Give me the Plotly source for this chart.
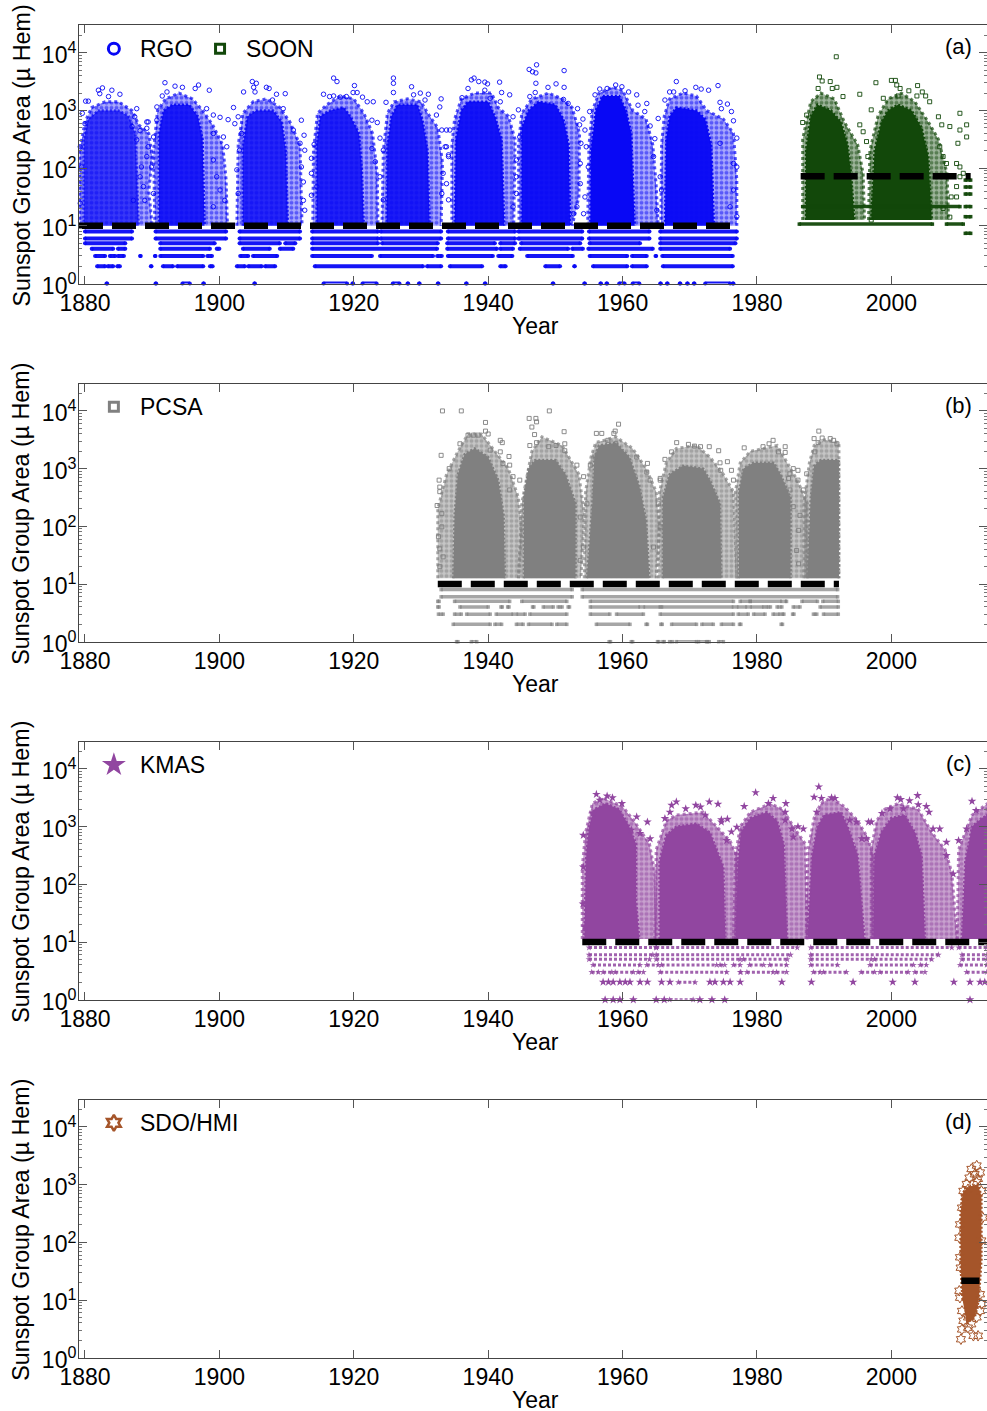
import plotly.graph_objects as go

WIDTH, HEIGHT = 987, 1411
FONT = "Liberation Sans"
BLUE = "rgb(8,8,245)"
GREEN = "rgb(18,72,10)"
GRAY = "rgb(128,128,128)"
PURPLE = "rgb(145,70,160)"
BROWN = "rgb(165,85,42)"

years_ticks = [1880, 1900, 1920, 1940, 1960, 1980, 2000]
decades = [1, 10, 100, 1000, 10000]
decade_labels = ["10<sup>0</sup>", "10<sup>1</sup>", "10<sup>2</sup>", "10<sup>3</sup>", "10<sup>4</sup>"]

# Dense parts of each cycle, read as (year, log10 area) outlines: outer = loose, core = nearly solid
rgo_outer = [
 [(1879.2,1),(1879.2,2.3),(1880,2.8),(1881,3.05),(1883,3.15),(1885,3.15),(1887,3.0),(1888,2.75),(1889.5,2.6),(1890,2.2),(1889.5,1.6),(1890,1)],
 [(1890.4,1),(1890.2,2.3),(1890.8,3.0),(1892,3.2),(1894,3.3),(1896,3.2),(1897.5,3.0),(1899,2.75),(1900.5,2.4),(1901,1.8),(1901.2,1)],
 [(1902.6,1),(1902.8,2.4),(1903.5,2.95),(1905,3.15),(1907,3.2),(1909,3.05),(1910.5,2.8),(1912,2.4),(1912.3,1)],
 [(1913.9,1),(1914,2.3),(1914.6,2.95),(1916,3.1),(1918,3.25),(1920,3.2),(1921.5,2.95),(1922.8,2.6),(1923.5,1.9),(1923.6,1)],
 [(1924.2,1),(1924.4,2.3),(1925,2.95),(1926,3.15),(1928,3.2),(1930,3.15),(1931,2.95),(1932.5,2.7),(1933.2,2.1),(1933,1)],
 [(1934.6,1),(1934.6,2.4),(1935,2.85),(1936,3.2),(1938,3.3),(1940.5,3.3),(1941.5,3.05),(1943,2.9),(1944,2.5),(1943.8,1)],
 [(1944.6,1),(1944.5,2.4),(1945,2.95),(1946.5,3.2),(1949,3.3),(1951,3.2),(1952.5,3.05),(1953.6,2.6),(1953.5,1.5),(1952.5,1)],
 [(1954.8,1),(1955,2.4),(1955.5,3),(1956.5,3.3),(1958.5,3.4),(1960,3.35),(1961.5,3.0),(1963.5,2.85),(1964.5,2.4),(1965,1.7),(1965.3,1)],
 [(1965.7,1),(1965.8,2.4),(1966.2,2.9),(1967,3.2),(1969,3.3),(1971,3.25),(1972.5,3.0),(1975,2.85),(1976.5,2.6),(1977,1.8),(1977,1)],
]
rgo_core = [
 [(1879.8,1),(1879.8,2.5),(1880.5,2.85),(1882,3.0),(1885,3.0),(1886.5,2.9),(1887.5,2.6),(1887.8,1.8),(1888,1)],
 [(1891,1),(1891,2.6),(1891.7,3.0),(1893,3.1),(1895.5,3.1),(1896.8,2.9),(1897.5,2.5),(1897.8,1)],
 [(1903.5,1),(1903.5,2.4),(1904.2,2.9),(1905.5,3.0),(1908,3.0),(1909.3,2.8),(1909.9,2.3),(1910.2,1)],
 [(1914.5,1),(1914.5,2.4),(1915,2.9),(1916.5,3.0),(1918.5,3.05),(1919.5,2.9),(1920.8,2.6),(1921.2,2),(1921.5,1)],
 [(1924.9,1),(1925,2.4),(1925.6,2.9),(1926.5,3.1),(1929.5,3.1),(1930.3,2.8),(1931,2.3),(1931.3,1)],
 [(1935,1),(1935.2,2.5),(1936,3.0),(1937,3.15),(1940,3.15),(1941,2.9),(1942,2.5),(1942.4,1)],
 [(1945,1),(1945,2.7),(1946,3.0),(1947.5,3.15),(1950,3.1),(1951.2,2.85),(1952,2.4),(1952.2,1)],
 [(1955.2,1),(1955.3,2.3),(1956,3),(1957,3.25),(1959.5,3.25),(1960.5,3),(1961.3,2.6),(1961.5,2),(1961.8,1)],
 [(1966.3,1),(1966.5,2.5),(1967,2.9),(1968,3.05),(1971,3.0),(1972.3,2.85),(1973.2,2.4),(1973.6,1)],
]
rgo_core_alpha = [0.7, 0.88, 0.82, 0.85, 0.88, 0.92, 0.95, 1.0, 0.97]

soon_outer = [
 [(1986.8,1.1),(1986.8,2.5),(1988,3.15),(1989.5,3.3),(1991.5,3.2),(1993,2.8),(1995,2.4),(1995.8,1.9),(1996,1.1)],
 [(1996.6,1.1),(1996.8,2.3),(1998,2.9),(1999.5,3.2),(2001.5,3.3),(2003.5,3.15),(2005.5,2.8),(2007,2.5),(2008.3,1.9),(2008.5,1.1)],
]
soon_core = [
 [(1987.3,1.1),(1987.3,2.3),(1988,2.9),(1989,3.1),(1991,3.0),(1992.5,2.8),(1993.5,2.4),(1994,1.9),(1994.5,1.1)],
 [(1997,1.1),(1997.5,2.3),(1998.5,2.8),(1999.5,3.0),(2001,3.1),(2003,3.0),(2004.5,2.7),(2005.5,2.2),(2006,1.1)],
]
pcsa_outer = [
 [(1932.5,1.1),(1932.5,2.3),(1933.8,2.9),(1935.5,3.3),(1937,3.6),(1939,3.6),(1941,3.3),(1943,3.0),(1944.5,2.5),(1945,1.9),(1944.5,1.1)],
 [(1944.5,1.1),(1945,2.4),(1946,3.0),(1946.5,3.3),(1948,3.55),(1951,3.4),(1952.5,3.1),(1953.5,2.9),(1954.3,2.2),(1953.8,1.1)],
 [(1954.3,1.1),(1954.5,2.6),(1955.3,3.2),(1956,3.45),(1959,3.55),(1961.5,3.35),(1963.5,3),(1965,2.6),(1965.5,2),(1965,1.1)],
 [(1965.3,1.1),(1965.5,2.6),(1966.5,3.1),(1968,3.35),(1971,3.4),(1973,3.2),(1975,2.9),(1976.5,2.6),(1977,1.1)],
 [(1977,1.1),(1976.8,2.6),(1977.5,3.1),(1979,3.3),(1983,3.4),(1984.5,3.1),(1986,2.8),(1987.5,2.4),(1987.5,1.1)],
 [(1987,1.1),(1987,2.4),(1987.8,3.1),(1988.5,3.4),(1990,3.5),(1992.2,3.45),(1992.2,1.1)],
]
pcsa_core = [
 [(1934.8,1.1),(1935,2.2),(1935.5,2.9),(1936.5,3.25),(1938,3.35),(1940,3.2),(1941.5,2.8),(1942.3,2.2),(1942.5,1.1)],
 [(1945.3,1.1),(1945.3,2.5),(1946,3.0),(1947,3.15),(1950,3.15),(1951.5,2.9),(1953,2.4),(1953,1.1)],
 [(1954.7,1.1),(1955.5,2.4),(1955.8,3.2),(1956.5,3.4),(1959,3.45),(1961,3.2),(1962.5,2.7),(1963.5,2.1),(1964,1.1)],
 [(1966,1.1),(1966,2.5),(1967,2.9),(1969,3.05),(1972,3.0),(1973,2.8),(1974.5,2.4),(1974.7,1.1)],
 [(1977.3,1.1),(1977.3,2.6),(1978,3.0),(1979.5,3.1),(1982.5,3.1),(1983.5,2.9),(1985,2.5),(1985,1.1)],
 [(1987.5,1.1),(1988,2.5),(1988.5,3.05),(1989.5,3.15),(1992.2,3.15),(1992.2,1.1)],
]
kmas_outer = [
 [(1954,1.05),(1954,2.3),(1954.5,2.9),(1955.5,3.4),(1957,3.5),(1960,3.35),(1962,3.05),(1964,2.7),(1964.8,2.2),(1965,1.05)],
 [(1964.8,1.05),(1965,2.6),(1966.5,3.1),(1968,3.2),(1972,3.25),(1974,3.0),(1976,2.75),(1977,2.5),(1977.3,1.05)],
 [(1976.5,1.05),(1976.8,2.5),(1977.5,3.0),(1979,3.25),(1982,3.4),(1983.8,3.3),(1986,2.9),(1987.2,2.7),(1987.5,1.05)],
 [(1987.3,1.05),(1987.6,2.6),(1988.5,3.15),(1989.5,3.4),(1991,3.5),(1993,3.35),(1995,3.1),(1996.5,2.8),(1997.5,2.4),(1997.7,1.05)],
 [(1997,1.05),(1997,2.6),(1997.8,3.1),(1999,3.3),(2001,3.4),(2004,3.3),(2006,2.9),(2008,2.6),(2009,2.2),(2009.8,1.05)],
 [(2009.8,1.05),(2010,2.6),(2011,2.9),(2012,3.2),(2014.3,3.4),(2014.3,1.05)],
]
kmas_core = [
 [(1954.3,1.05),(1954.6,2.5),(1955,3.0),(1955.8,3.3),(1957.5,3.4),(1959.5,3.3),(1961,3.0),(1962,2.7),(1962,1.7),(1962.5,1.05)],
 [(1965.5,1.05),(1965.5,2.4),(1966.5,2.85),(1968,3.0),(1971,3.05),(1973,2.9),(1975,2.3),(1975.3,1.05)],
 [(1976.8,1.05),(1977.2,2.4),(1977.6,2.9),(1979,3.15),(1981.5,3.25),(1983,3.1),(1984,2.7),(1984.5,1.05)],
 [(1987.5,1.05),(1988.2,2.5),(1989,3),(1990,3.2),(1992.5,3.25),(1993.5,3),(1995,2.5),(1996,1.05)],
 [(1997.3,1.05),(1997.5,2.5),(1998.5,2.9),(2000,3.15),(2002,3.2),(2003.5,2.9),(2004.5,2.5),(2005,1.05)],
 [(2010.5,1.05),(2011,2.4),(2012,3.0),(2013.5,3.15),(2014.3,3.2),(2014.3,1.05)],
]
hmi_core = [
 [(2010.6,1.0),(2010.3,1.6),(2010.3,2.5),(2010.6,2.85),(2011.3,2.95),(2012.9,3.0),(2013.4,2.8),(2013.4,1.7),(2013,1),(2012.4,.7),(2011.2,.6)],
]

# Individually readable points outside the dense parts: (year, log10 area)
rgo_points = [
 (1882.6,3.39),(1882,3.35),(1882.2,3.29),(1884,3.35),(1885.2,3.28),(1883.5,3.24),(1880.5,3.16),(1880.1,3.16),(1879.6,2.95),(1887.7,3.03),(1887.4,2.89),(1889.2,2.8),(1889.2,2.69),(1888.2,2.65),(1887,2.72),(1887.7,2.49),(1889.4,2.37),(1889.2,2.2),(1888.4,2.02),(1888.2,1.85),(1888.7,1.68),(1888.9,1.44),(1887.2,1.44),(1879.3,2.37),(1879.5,2.02),(1879.3,1.39),(1880,2.77),
 (1891.9,3.48),(1893.4,3.42),(1894.5,3.4),(1896.9,3.44),(1896.4,3.38),(1898.5,3.35),(1892.2,3.32),(1891.5,3.25),(1890.7,3.06),(1898.1,3.03),(1899.1,2.92),(1900.1,2.88),(1901.3,2.84),(1902.1,3.05),(1889.4,2.8),(1890.7,2.83),(1890.2,2.54),(1889.9,2.02),(1890.2,1.56),(1899.1,2.6),(1900.6,2.54),(1901.1,2.37),(1899.1,2.14),(1899.6,1.85),(1900.8,1.44),(1899.1,1.33),(1900.1,1.62),
 (1904.9,3.5),(1905.5,3.47),(1905.1,3.4),(1903.6,3.32),(1907,3.4),(1907.4,3.38),(1905.3,3.32),(1909.8,3.29),(1908.5,3.28),(1907.9,3.18),(1902.3,2.77),(1902.8,2.89),(1912.2,2.83),(1912.6,2.57),(1912,2.43),(1912.7,2.31),(1912.2,2.02),(1912.5,1.76),(1912.5,1.44),(1912.7,1.27),(1903.3,2.6),(1903,2.31),(1902.6,1.97),(1902.8,1.56),(1909.5,3.03),(1911,2.66),
 (1917,3.56),(1917.5,3.5),(1920.1,3.43),(1915.5,3.28),(1916.4,3.24),(1917,3.25),(1918,3.23),(1918.9,3.24),(1919.9,3.31),(1920.5,3.31),(1921.3,3.23),(1922,3.15),(1922.9,3.15),(1922.7,2.83),(1923.5,2.79),(1914.1,2.41),(1913.7,2.17),(1913.7,1.91),(1914.5,1.68),(1913.7,1.53),(1923.2,2.11),(1922.7,2.34),(1923.9,2.52),
 (1925.9,3.56),(1925.9,3.47),(1925.9,3.31),(1928.6,3.41),(1929.9,3.3),(1928.9,3.27),(1931.1,3.28),(1924.8,3.14),(1930.6,3.18),(1933,3.2),(1932.8,3.06),(1932.3,2.92),(1933.1,2.66),(1933.8,2.66),(1933.6,2.37),(1934.1,2.23),(1933.3,1.91),(1933.1,1.56),(1924.4,2.31),(1923.9,1.85),(1924.4,1.45),
 (1937.9,3.56),(1937.5,3.53),(1938.6,3.5),(1939.5,3.49),(1939.9,3.46),(1941.7,3.49),(1937,3.38),(1936.1,3.22),(1939.5,3.35),(1942,3.31),(1943.2,3.27),(1940.3,3.21),(1941.8,3.15),(1944.5,3.01),(1934.3,2.66),(1933.8,2.37),(1934.1,2.2),(1933.8,1.73),(1934.1,1.45),(1943.7,2.89),(1944.7,2.54),(1944.2,2.14),(1944.2,1.85),(1944.2,1.56),(1943.7,1.33),
 (1947.2,3.79),(1946.1,3.71),(1946.6,3.67),(1947.1,3.65),(1951.3,3.69),(1947.1,3.47),(1950.1,3.46),(1948.9,3.4),(1951.3,3.4),(1947,3.31),(1946.2,3.24),(1951.2,3.19),(1951.9,3.12),(1953.3,3.03),(1954.1,2.85),(1953.6,2.75),(1953.8,2.43),(1953.7,2.08),(1953.7,1.73),(1953.2,1.33),(1952.7,1.21),
 (1958.97,3.44),(1957.7,3.38),(1956.6,3.37),(1959.9,3.41),(1960.9,3.32),(1962.1,3.27),(1955.9,3.27),(1963.6,3.12),(1962.3,3.09),(1963.3,2.98),(1955.1,2.98),(1954.4,2.66),(1954.6,2.37),(1954.9,2.02),(1964.1,2.73),(1964.8,2.51),(1965.3,2.86),(1964.6,2.2),(1965.6,1.85),(1965.8,1.62),(1954.4,1.5),(1954.2,1.21),(1965.1,1.27),
 (1968,3.5),(1970.9,3.4),(1971.7,3.37),(1974.2,3.43),(1972.8,3.35),(1967,3.32),(1967.6,3.32),(1969.3,3.34),(1966.3,3.18),(1974.5,3.14),(1975.6,3.11),(1976.2,2.98),(1974.7,3.03),(1977,2.52),(1976.5,2.08),(1977,2.02),(1976.5,1.62),(1977,1.16),(1976,1.33),(1976.5,2.82),(1974.5,2.43),
]
soon_points = [
 (1991.8,3.93),(1989.3,3.58),(1989.7,3.51),(1990.9,3.5),(1989.1,3.38),(1991.9,3.4),(1991.2,3.38),(1992.8,3.24),(1995.3,3.28),(1997.7,3.48),(2000,3.52),(2000.6,3.52),(2000.8,3.44),(2001.3,3.38),(2002.6,3.34),(2003.9,3.43),(2004.6,3.32),(2003.8,3.25),(2005.1,3.25),(2005.7,3.15),(1998.8,3.21),(2001,3.25),(1997,3.01),(1987.4,2.92),(1986.8,2.79),(1995.3,2.75),(1995.8,2.63),(2007.5,2.75),(2010.2,2.95),(2010.2,2.66),(2011.2,2.75),(2008.7,2.72),(2011.2,2.54),(2009.9,2.43),(2007,2.89),(2008.2,2.08),(2007.2,2.37),(2007.7,2.2),(2009.7,2.08),(2010.2,2.02),(2010.7,1.91),(1996.3,2.46),(1996.5,2.2),(2008.9,1.5),(2009.7,1.68),(2010.2,1.85),(2007.7,1.3),(2008.7,1.15),(2009.7,1.5),(1997,1.1),
]
pcsa_points = [
 (1933.2,4.0),(1936,4.0),(1939.6,3.8),(1939.6,3.65),(1940,3.6),(1937,3.58),(1937.8,3.58),(1938.5,3.58),(1935.8,3.43),(1933,3.23),(1941.8,3.49),(1942.1,3.45),(1940.3,3.32),(1941.8,3.29),(1943.1,3.21),(1943.2,3.06),(1942.2,3.09),(1934.2,3.0),(1932.7,2.8),(1932.8,2.68),(1932.8,2.6),(1932.4,2.36),(1933.1,2.22),(1933.1,1.99),(1932.6,1.82),(1932.8,1.61),(1933.3,1.47),(1932.8,1.3),(1943.7,2.86),(1943.2,2.63),
 (1946.1,3.87),(1947.1,3.87),(1947.2,3.81),(1949.1,4),(1946.5,3.72),(1951.3,3.64),(1946.9,3.59),(1950.1,3.4),(1946.2,3.4),(1947.2,3.45),(1949,3.38),(1951.4,3.43),(1951.4,3.31),(1953.2,3.06),(1954.2,2.86),(1944.7,2.8),(1954.7,2.39),(1953.7,2.16),(1954.2,1.64),(1953.7,1.41),
 (1959.4,3.77),(1958.9,3.65),(1958.7,3.61),(1956.1,3.61),(1956.9,3.61),(1957.8,3.49),(1959,3.43),(1955.9,3.2),(1955.2,3.06),(1963.7,3.09),(1962.1,3.2),(1963.6,2.94),(1964.1,2.8),(1965.6,2.83),(1965.3,2.39),(1965.6,1.99),(1964.6,1.64),
 (1968.05,3.45),(1969.8,3.42),(1970.7,3.39),(1971.6,3.38),(1972.9,3.38),(1974.3,3.31),(1967.3,3.29),(1966.3,3.16),(1975.6,3.12),(1974.5,3.1),(1976.2,2.97),(1974.6,2.97),(1976.5,2.8),(1965.6,2.8),
 (1978.1,3.36),(1980.9,3.38),(1981.8,3.43),(1982.4,3.49),(1984.2,3.38),(1983.2,3.29),(1984.2,3.28),(1985.4,3),(1986.1,2.97),(1984.9,2.91),(1984.7,2.83),(1986.1,2.8),(1984.9,2.63),(1985.4,2.34),(1986.4,2.19),(1986.2,1.93),(1985.9,1.58),(1986.2,1.35),
 (1989.2,3.65),(1989.7,3.53),(1988.5,3.52),(1989.1,3.45),(1990.9,3.52),(1991.4,3.49),(1991.9,3.43),(1988.6,3.29),(1987.4,2.91),(1986.9,2.63),
]
kmas_points = [
 (1956.1,3.56),(1957.7,3.53),(1958.5,3.5),(1956.6,3.46),(1955.6,3.23),(1959.9,3.4),(1962.1,3.17),(1963.7,3.08),(1961.3,2.94),(1962.6,2.88),(1964.1,2.79),(1954.15,2.85),(1954.15,2.3),(1954.1,1.66),(1954.4,1.26),
 (1967.3,3.37),(1968,3.43),(1966.3,3.14),(1967.05,3.25),(1969.4,3.31),(1970.9,3.37),(1971.6,3.34),(1972.9,3.43),(1974.2,3.39),(1972.3,3.2),(1974.7,3.12),(1975.6,3.13),(1974.7,3.08),(1977,2.99),(1976.2,2.91),(1975.5,2.76),
 (1979.8,3.59),(1978.1,3.35),(1982.4,3.49),(1984.3,3.4),(1981.7,3.4),(1984.2,3.25),(1984.2,3.11),(1985.2,2.96),(1986.1,3),(1986.9,2.96),(1985.4,2.82),
 (1989.2,3.69),(1988.5,3.51),(1989.6,3.49),(1991.1,3.5),(1991.6,3.49),(1988.9,3.25),(1993.8,3.11),(1994.8,3.08),(1995.6,2.79),(1996.3,2.79),(1996.6,3.08),
 (2000.9,3.5),(2001.4,3.47),(2003.9,3.54),(2002.7,3.45),(2004,3.38),(2001.8,3.31),(1999.8,3.31),(1998.6,3.23),(2005.2,3.35),(2005.6,3.25),(1997,3.08),(2006.2,2.96),(2007.2,2.96),(2008.2,2.73),(2008.2,2.5),(2009.2,2.18),(2012,3.44),(2012.6,3.28),(2011.2,2.96),(2010,2.76),
 (1957.1,.306),(1957.9,.306),(1958.6,.306),(1959.6,.306),(1960.4,.306),(1961.1,.306),(1962.6,.306),(1963.7,.306),(1965.8,.306),(1967.05,.306),(1973,.306),(1973.75,.306),(1975,.306),(1976,.306),(1977.5,.306),(1983.7,.306),(1988.1,.306),(1994.3,.306),(2000.2,.306),(2003.5,.306),(2009.3,.306),(2011.7,.306),(2013.2,.306),(2013.9,.306),
 (1957.4,0),(1958.6,0),(1959.6,0),(1961.6,0),(1965,0),(1966.2,0),(1971.5,0),(1973.3,0),(1975.2,0),(2011.7,0),
]
hmi_points = [
 (2012.7,3.33),(2011.9,3.27),(2013.2,3.21),(2011.6,3.12),(2012.4,3.18),(2012.9,3.1),(2011.2,3.01),(2010.7,2.89),(2011.4,2.92),(2012.7,3.04),(2011,2.78),(2010.5,2.6),(2010.2,2.31),(2010.1,2.08),(2010.2,1.74),(2010.3,1.56),(2013.4,2.89),(2013.6,2.43),(2013.4,2.03),(2010.2,1.04),(2010.5,.81),(2013.2,.81),(2012.7,.7),(2010.7,.64),(2010.5,.49),(2010.35,.32),(2011.4,.52),(2012.9,.38),(2012.2,.38),(2013.4,.93),(2011.4,.7),(2011.9,.58),(2010.1,1.16),(2013.2,1.1),
]

# Discrete low-area rows: area value -> runs of years where the symbols merge
rgo_rows = {
 1: [(1883.2,1883.3),(1890.5,1890.6),(1894.5,1895.6),(1897.6,1897.7),(1905.2,1905.3),(1915.5,1919),(1919.8,1919.9),(1921.3,1923.4),(1925.8,1926.8),(1928,1928.1),(1929.7,1929.8),(1932.5,1932.6),(1936.7,1936.8),(1939.5,1939.6),(1949.6,1949.7),(1954.3,1954.4),(1956.7,1956.8),(1957.6,1957.7),(1959.5,1960.3),(1961.5,1962.5),(1965.6,1965.7),(1966.6,1966.7),(1968.5,1968.6),(1969.6,1969.7),(1970.6,1970.7),(1972.3,1976),(1976.4,1976.5)],
 2: [(1881.8,1883),(1883.4,1884.2),(1884.8,1885.2),(1889.8,1889.9),(1891.6,1893.1),(1893.7,1897.6),(1898.6,1899),(1902.6,1903.8),(1904.3,1906.3),(1906.8,1908.3),(1914.2,1930.3),(1930.9,1933),(1934.3,1939.1),(1941.8,1942.6),(1948.5,1950.7),(1952.8,1952.9),(1955.6,1960.7),(1961.4,1963.6),(1966,1976.4)],
 3: [(1881.5,1883),(1883.7,1884.5),(1884.9,1885.8),(1888.2,1888.3),(1890.4,1890.5),(1891.2,1897.6),(1898.2,1898.9),(1903.1,1904.3),(1905,1908.6),(1913.8,1922.7),(1923.9,1931.8),(1932.4,1933.1),(1934,1940.7),(1941.5,1943.6),(1945.8,1952.6),(1955.1,1960.7),(1961.4,1963.6),(1964.9,1965),(1965.9,1976.4)],
 4: [(1881,1884.2),(1884.9,1886),(1891.2,1898.6),(1899.6,1900),(1903.5,1907.5),(1909,1911),(1913.8,1932.4),(1933.9,1941.3),(1941.8,1943.7),(1944.7,1951.9),(1952.5,1954.1),(1954.9,1964.5),(1965.6,1976)],
 5: [(1880,1886),(1891.2,1899.3),(1903,1909),(1909.8,1911.3),(1913.8,1923.6),(1924.2,1932.5),(1933.9,1941),(1941.8,1944),(1944.9,1953.7),(1955.1,1962.6),(1965.6,1976.8)],
 6: [(1880,1887),(1890.5,1901),(1903,1912),(1913.8,1923.6),(1924,1933),(1934,1944),(1944.5,1954),(1955,1964),(1965.6,1977)],
 8: [(1880,1887),(1890.5,1901),(1903,1912),(1913.8,1923.6),(1924,1933),(1934,1944),(1944.5,1954),(1955,1964),(1965.6,1977)],
}
soon_rows = {
 7.4: [(2011,2011.8)],
 10.7: [(1986.3,2006.1),(2008.2,2010.7)],
 14.4: [(2011,2011.8)],
 21.5: [(1986.8,2010.2),(2011,2011.8)],
 35.5: [(2011,2011.8)],
 47: [(2011,2011.8)],
 62: [(2011,2011.8)],
}
pcsa_rows = {
 1: [(1935.3,1935.5),(1937.5,1938.3),(1958,1958.2),(1961.3,1961.5),(1965.2,1965.4),(1966,1966.2),(1967,1967.4),(1968,1971),(1971.3,1972.5),(1972.6,1972.9),(1974.3,1975)],
 2: [(1934.8,1940.3),(1941,1942),(1944.2,1945.2),(1946,1949.5),(1950.2,1951.7),(1956.1,1961.1),(1963.5,1963.7),(1965.7,1965.9),(1967.3,1971),(1971.8,1973.5),(1974.7,1976.5),(1977.4,1977.6),(1983.6,1983.8)],
 3: [(1932.6,1933.3),(1935,1936),(1936.8,1940.3),(1941.2,1943.7),(1944.2,1945.5),(1946.2,1951.7),(1955.2,1958.1),(1959.1,1963.1),(1965.6,1976.5),(1977.2,1978.7),(1979.5,1981.2),(1982.4,1983.4),(1983.8,1984),(1985.3,1985.5),(1988.4,1988.9),(1989.9,1992.1)],
 4: [(1932.5,1932.7),(1935.8,1940),(1941.9,1942.1),(1942.9,1943.1),(1946.6,1946.8),(1948.2,1949.7),(1950.4,1951),(1951.9,1952.1),(1955.2,1962.6),(1963.1,1965.6),(1965.8,1976.5),(1977,1978.5),(1979,1981),(1981.4,1982),(1983,1983.7),(1985.4,1986.4),(1989.4,1992.1)],
 5: [(1932.5,1932.7),(1935,1943.2),(1945,1951.7),(1955.2,1976.5),(1977.5,1979),(1979,1983.7),(1984.2,1984.4),(1986.7,1989),(1989.8,1992.1)],
 6: [(1933,1952.5),(1954,1992)],
 8: [(1933,1952.5),(1954,1992)],
}
kmas_rows = {
 1: [(1967,1970.5)],
 2: [(1968.3,1970.8)],
 3: [(1955.4,1956.4),(1957.1,1958.4),(1958.9,1961.6),(1962.3,1963.1),(1965.6,1975.5),(1977.5,1977.6),(1978.5,1982.4),(1982.9,1984.4),(1988.4,1989.4),(1989.9,1993.3),(1995.5,1997.5),(1998.3,2002.5),(2003.5,2005),(2011.2,2014.2)],
 4: [(1955.6,1962.6),(1963.6,1965.3),(1965.8,1974),(1974.5,1975.2),(1976.5,1977.5),(1978.9,1981),(1981.9,1984.4),(1988,1992),(1996.8,2003.3),(2004.3,2005.2),(2010.2,2014.2)],
 5: [(1955,1964),(1965,1977.5),(1978,1984.5),(1988,1997),(1997.5,2006),(2010.5,2014.2)],
 6: [(1955,1964.5),(1965,1985),(1988,2007),(2010.5,2014.2)],
 8: [(1955,1965),(1965,1986),(1988,2009),(2010,2014.2)],
}

# Dashed reference levels: (start year, end year, area)
rgo_level = [(1879.11, 1976.8, 10)]
soon_level = [(1986.5, 2011.8, 72)]
pcsa_level = [(1932.5, 1992.2, 10)]
kmas_level = [(1954, 2014.23, 10)]
hmi_level = [(2010.4, 2013.1, 21.6)]

panel_letters = ["(a)", "(b)", "(c)", "(d)"]
X_RANGE = [1879.11, 2014.23]
Y_RANGE = [0, 4.475]
panel_tops = [25.3, 383.5, 741.5, 1099.5]
PANEL_H = 258.2


def rgba(rgb, a):
    return rgb.replace("rgb(", "rgba(").replace(")", f",{a})")


fig = go.Figure()
AREA_MINOR = [m * 10 ** d for d in range(5) for m in range(2, 10)]


def add_shapes(n, polys, color, alphas):
    for poly, a in zip(polys, alphas):
        fig.add_trace(go.Scatter(x=[p[0] for p in poly], y=[10 ** p[1] for p in poly], mode="lines",
                                 fill="toself", fillcolor=rgba(color, a),
                                 line=dict(color=rgba(color, a), width=2.5, dash="2px,2px"),
                                 hoverinfo="skip", showlegend=False, xaxis=f"x{n}", yaxis=f"y{n}"))


def add_loose(n, polys, color, bg_alpha, solidity, size=5):
    for poly in polys:
        fig.add_trace(go.Scatter(x=[p[0] for p in poly], y=[10 ** p[1] for p in poly], mode="lines",
                                 fill="toself", fillcolor=rgba(color, bg_alpha),
                                 fillpattern=dict(shape=".", size=size, solidity=solidity, fgcolor=color, bgcolor=rgba(color, bg_alpha)),
                                 line=dict(color=rgba(color, 0.7), width=3, dash="3px,3px"),
                                 hoverinfo="skip", showlegend=False, xaxis=f"x{n}", yaxis=f"y{n}"))


def add_rows(n, rows, color, alpha, symbol, width=4, dash="solid", size=4):
    xs, ys = [], []
    for val, runs in rows.items():
        for a, b in runs:
            xs += [a, b, None]
            ys += [val, val, None]
    fig.add_trace(go.Scatter(x=xs, y=ys, mode="lines+markers", line=dict(color=rgba(color, alpha), width=width, dash=dash),
                             marker=dict(symbol=symbol, size=size, color=rgba(color, alpha), line=dict(width=0)),
                             showlegend=False, xaxis=f"x{n}", yaxis=f"y{n}", cliponaxis=False))


def add_points(n, pts, color, symbol, size, lw=1.0, alpha=0.9):
    fig.add_trace(go.Scatter(x=[p[0] for p in pts], y=[10 ** p[1] for p in pts], mode="markers",
                             marker=dict(symbol=symbol, size=size, color=rgba(color, alpha), line=dict(color=rgba(color, alpha), width=lw)),
                             showlegend=False, xaxis=f"x{n}", yaxis=f"y{n}", cliponaxis=False))


def add_level(n, level):
    for a, b, v in level:
        fig.add_trace(go.Scatter(x=[a, b], y=[v, v], mode="lines", line=dict(color="black", width=6.5, dash="24px,9px"),
                                 showlegend=False, xaxis=f"x{n}", yaxis=f"y{n}"))


def add_key(n, year, symbol, size, color, lw):
    fig.add_trace(go.Scatter(x=[year], y=[10 ** 4.07], mode="markers",
                             marker=dict(symbol=symbol, size=size, color=color, line=dict(color=color, width=lw)),
                             showlegend=False, xaxis=f"x{n}", yaxis=f"y{n}"))


# (a)
add_loose(1, rgo_outer, BLUE, 0.35, 0.5)
add_shapes(1, rgo_core, BLUE, rgo_core_alpha)
add_rows(1, rgo_rows, BLUE, 0.95, "circle")
add_points(1, rgo_points, BLUE, "circle-open", 4.5)
add_loose(1, soon_outer, GREEN, 0.4, 0.5)
add_shapes(1, soon_core, GREEN, [1.0] * 2)
add_rows(1, soon_rows, GREEN, 0.95, "square", 3.5, "solid", 3.5)
add_points(1, soon_points, GREEN, "square-open", 4)
add_level(1, rgo_level)
add_level(1, soon_level)
add_key(1, 1884.3, "circle-open", 11, BLUE, 3)
add_key(1, 1900.1, "square-open", 9, GREEN, 3)
# (b)
add_loose(2, pcsa_outer, GRAY, 0.45, 0.5)
add_shapes(2, pcsa_core, GRAY, [1.0] * 6)
add_rows(2, pcsa_rows, GRAY, 0.7, "square", 3.5, "solid", 3.5)
add_points(2, pcsa_points, GRAY, "square-open", 4)
add_level(2, pcsa_level)
add_key(2, 1884.3, "square-open", 9, GRAY, 3)
# (c)
add_loose(3, kmas_outer, PURPLE, 0.5, 0.55)
add_shapes(3, kmas_core, PURPLE, [1.0] * 6)
add_rows(3, kmas_rows, PURPLE, 0.85, "star", 3, "3px,2px", 5)
add_points(3, kmas_points, PURPLE, "star", 6.5, 0, 1.0)
add_level(3, kmas_level)
add_key(3, 1884.3, "star", 18, PURPLE, 0)
# (d)
add_shapes(4, hmi_core, BROWN, [1.0])
add_points(4, hmi_points, BROWN, "hexagram-open", 8, 1.0, 1.0)
add_level(4, hmi_level)
add_key(4, 1884.3, "hexagram-open", 12, BROWN, 2.5)

annotations = []
labels = [[("RGO", 1887.9), ("SOON", 1903.7)], [("PCSA", 1887.9)], [("KMAS", 1887.9)], [("SDO/HMI", 1887.9)]]
layout = {}
for i, top in enumerate(panel_tops):
    n = i + 1
    suffix = "" if n == 1 else str(n)
    bottom = top + PANEL_H
    ydom = [1 - bottom / HEIGHT, 1 - top / HEIGHT]
    layout[f"xaxis{suffix}"] = dict(domain=[79 / WIDTH, 1], range=X_RANGE, anchor=f"y{suffix}", tickmode="array",
                                    tickvals=years_ticks, ticks="inside", ticklen=8, tickwidth=1, tickcolor="#555",
                                    showline=True, linecolor="#444", linewidth=1, mirror="ticks", showgrid=False, zeroline=False,
                                    ticklabelstandoff=-1,
                                    tickfont=dict(family=FONT, size=23, color="black"), automargin=False)
    layout[f"yaxis{suffix}"] = dict(domain=ydom, type="log", range=Y_RANGE, anchor=f"x{suffix}", tickmode="array",
                                    tickvals=decades, ticktext=decade_labels, ticks="inside", ticklen=8, tickwidth=1, tickcolor="#555",
                                    showline=True, linecolor="#444", linewidth=1, mirror="ticks", showgrid=False, zeroline=False,
                                    minor=dict(tickmode="array", tickvals=AREA_MINOR, ticks="inside", ticklen=3, tickcolor="#777", showgrid=False),
                                    ticklabelstandoff=-3, ticklabelshift=2,
                                    tickfont=dict(family=FONT, size=23, color="black"), automargin=False)
    xr, yr = f"x{suffix}", f"y{suffix}"
    for text, year in labels[i]:
        annotations.append(dict(text=text, x=year, y=4.06, xref=xr, yref=yr, xanchor="left", yanchor="middle", showarrow=False,
                                font=dict(family=FONT, size=23, color="black")))
    annotations.append(dict(text=panel_letters[i], x=2012.3, y=4.1, xref=xr, yref=yr, xanchor="right", yanchor="middle", showarrow=False,
                            font=dict(family=FONT, size=22, color="black")))
    annotations.append(dict(text="Year", x=535.5 / WIDTH, y=1 - (bottom + 42) / HEIGHT, xref="paper", yref="paper",
                            xanchor="center", yanchor="middle", showarrow=False, font=dict(family=FONT, size=23, color="black")))
    annotations.append(dict(text="Sunspot Group Area (\u00b5 Hem)", x=21 / WIDTH, y=1 - (bottom - 128) / HEIGHT, xref="paper", yref="paper",
                            xanchor="center", yanchor="middle", textangle=-90, showarrow=False, font=dict(family=FONT, size=23.3, color="black")))

fig.update_layout(width=WIDTH, height=HEIGHT, margin=dict(l=0, r=0, t=0, b=0, autoexpand=False), paper_bgcolor="white",
                  plot_bgcolor="white", showlegend=False, annotations=annotations, **layout)
fig.write_html("out.html", post_script="document.body.style.margin='0';", config=dict(displayModeBar=False))
